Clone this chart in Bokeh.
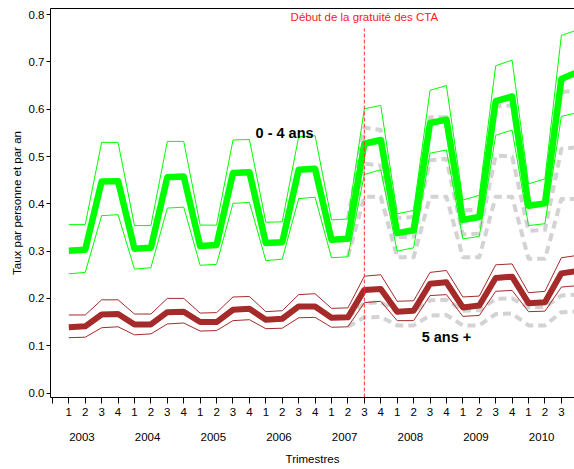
from bokeh.plotting import figure
from bokeh.models import Range1d, LinearAxis, FixedTicker, Label
from bokeh.embed import file_html
from bokeh.resources import INLINE

# ---- data ----
years = ["2003", "2004", "2005", "2006", "2007", "2008", "2009", "2010"]
quarters = ["1", "2", "3", "4"]
policy_start_index = 18  # 2007 Q3
policy_label = "Début de la gratuité des CTA"

green_mid = [0.301, 0.303, 0.447, 0.448, 0.305, 0.307, 0.456, 0.458,
             0.311, 0.313, 0.465, 0.467, 0.317, 0.319, 0.472, 0.474,
             0.324, 0.326, 0.527, 0.535, 0.338, 0.344, 0.571, 0.578,
             0.366, 0.372, 0.617, 0.627, 0.396, 0.401, 0.664, 0.679]
green_hi = [0.356, 0.356, 0.530, 0.530, 0.354, 0.354, 0.532, 0.532,
            0.355, 0.355, 0.535, 0.536, 0.361, 0.362, 0.542, 0.544,
            0.366, 0.368, 0.601, 0.608, 0.379, 0.386, 0.640, 0.650,
            0.408, 0.418, 0.692, 0.704, 0.442, 0.453, 0.756, 0.768]
green_lo = [0.252, 0.255, 0.375, 0.377, 0.262, 0.265, 0.391, 0.393,
            0.270, 0.272, 0.401, 0.403, 0.280, 0.283, 0.411, 0.414,
            0.286, 0.288, 0.462, 0.472, 0.300, 0.307, 0.507, 0.514,
            0.326, 0.331, 0.545, 0.556, 0.354, 0.358, 0.585, 0.593]

red_mid = [0.139, 0.141, 0.166, 0.167, 0.145, 0.145, 0.171, 0.172,
           0.150, 0.150, 0.176, 0.178, 0.155, 0.157, 0.183, 0.183,
           0.159, 0.160, 0.218, 0.220, 0.172, 0.174, 0.231, 0.234,
           0.181, 0.185, 0.243, 0.246, 0.190, 0.192, 0.253, 0.258]
red_hi = [0.165, 0.165, 0.197, 0.197, 0.167, 0.167, 0.200, 0.200,
          0.169, 0.170, 0.203, 0.204, 0.172, 0.174, 0.208, 0.210,
          0.179, 0.180, 0.247, 0.250, 0.194, 0.195, 0.255, 0.259,
          0.203, 0.205, 0.271, 0.273, 0.212, 0.215, 0.286, 0.291]
red_lo = [0.117, 0.118, 0.138, 0.140, 0.123, 0.125, 0.146, 0.148,
          0.131, 0.132, 0.153, 0.155, 0.136, 0.137, 0.159, 0.160,
          0.139, 0.140, 0.191, 0.194, 0.153, 0.153, 0.206, 0.208,
          0.162, 0.164, 0.215, 0.217, 0.172, 0.173, 0.224, 0.227]

# projections (grey dashed) from 2007 Q2 onwards
proj_start_index = 17
proj_green_hi = [0.368, 0.561, 0.556, 0.370, 0.372, 0.583, 0.583, 0.386,
                 0.388, 0.606, 0.608, 0.400, 0.402, 0.636, 0.640]
proj_green_mid = [0.326, 0.485, 0.481, 0.329, 0.331, 0.492, 0.495, 0.335,
                  0.337, 0.502, 0.500, 0.343, 0.345, 0.516, 0.520]
proj_green_lo = [0.288, 0.415, 0.415, 0.287, 0.287, 0.415, 0.415, 0.287,
                 0.287, 0.415, 0.415, 0.284, 0.284, 0.410, 0.410]
proj_red_mid = [0.160, 0.190, 0.192, 0.171, 0.172, 0.196, 0.197, 0.174,
                0.175, 0.199, 0.200, 0.181, 0.182, 0.206, 0.208]
proj_red_lo = [0.140, 0.160, 0.161, 0.143, 0.143, 0.164, 0.165, 0.143,
               0.143, 0.167, 0.168, 0.143, 0.143, 0.171, 0.172]

y_ticks = [0.0, 0.1, 0.2, 0.3, 0.4, 0.5, 0.6, 0.7, 0.8]

# ---- derived ----
n = len(green_mid)
idx = list(range(n))
pidx = list(range(proj_start_index, proj_start_index + len(proj_green_mid)))

FONT = "Liberation Sans"
FS = "11.5px"
GREEN = "#00ff00"
BROWN = "#a52a2a"
GREY = "#d3d3d3"

p = figure(width=574, height=469, output_backend="svg", toolbar_location=None,
           x_range=Range1d(-1.115, 30.8), y_range=Range1d(-0.0095, 0.813),
           min_border_left=50, min_border_right=0, min_border_top=8,
           min_border_bottom=72)
p.outline_line_color = None
p.grid.visible = False
p.background_fill_color = "white"
p.border_fill_color = "white"

# x axis (quarters)
qticks = list(range(-1, n))
xa = p.xaxis[0]
xa.ticker = FixedTicker(ticks=qticks)
xa.major_label_overrides = {i: ("" if i < 0 else quarters[i % 4]) for i in qticks}
xa.major_tick_out = 6
xa.major_tick_in = 0
xa.minor_tick_line_color = None
xa.major_label_standoff = 4
xa.major_label_text_font = FONT
xa.major_label_text_font_size = FS
xa.major_label_text_color = "black"
xa.axis_line_color = "black"
xa.major_tick_line_color = "black"

# year axis
year_pos = [4 * k + 0.8 for k in range(len(years))]
ya2 = LinearAxis(ticker=FixedTicker(ticks=year_pos),
                 major_label_overrides={year_pos[k]: years[k] for k in range(len(years))},
                 major_tick_line_color=None, minor_tick_line_color=None,
                 axis_line_color=None, major_tick_out=0, major_tick_in=0,
                 major_label_standoff=14,
                 major_label_text_font=FONT, major_label_text_font_size=FS,
                 major_label_text_color="black",
                 axis_label="Trimestres", axis_label_text_font=FONT,
                 axis_label_text_font_size=FS, axis_label_text_font_style="normal",
                 axis_label_text_color="black", axis_label_standoff=9)
p.add_layout(ya2, "below")

# top border
top = LinearAxis(ticker=FixedTicker(ticks=[]), major_tick_line_color=None,
                 minor_tick_line_color=None, major_label_text_font_size="0px",
                 axis_line_color="black", major_tick_out=0, major_tick_in=0,
                 major_label_standoff=0)
p.add_layout(top, "above")

# y axis
yax = p.yaxis[0]
yax.ticker = FixedTicker(ticks=y_ticks)
yax.major_label_overrides = {v: f"{v:.1f}" for v in y_ticks}
yax.major_tick_out = 4
yax.major_tick_in = 0
yax.minor_tick_line_color = None
yax.major_label_standoff = 2
yax.major_label_text_font = FONT
yax.major_label_text_font_size = FS
yax.major_label_text_color = "black"
yax.axis_label = "Taux par personne et par an"
yax.axis_label_text_font = FONT
yax.axis_label_text_font_size = FS
yax.axis_label_text_font_style = "normal"
yax.axis_label_text_color = "black"
yax.axis_label_standoff = 3

# grey projections
for s in (proj_green_hi, proj_green_mid, proj_green_lo, proj_red_mid, proj_red_lo):
    p.line(pidx, s, line_color=GREY, line_width=4, line_dash="8 5",
           line_join="round")

# thin bands
for s in (green_hi, green_lo):
    p.line(idx, s, line_color=GREEN, line_width=1)
for s in (red_hi, red_lo):
    p.line(idx, s, line_color=BROWN, line_width=1)

# thick lines
p.line(idx, green_mid, line_color=GREEN, line_width=6.5, line_join="round")
p.line(idx, red_mid, line_color=BROWN, line_width=6, line_join="round")

# policy line
p.segment(x0=[policy_start_index], y0=[-0.0095], x1=[policy_start_index], y1=[0.771],
          line_color="#ff3030", line_width=1, line_dash="4 2")
p.add_layout(Label(x=policy_start_index, y=0.794, text=policy_label,
                   text_align="center", text_baseline="middle",
                   text_font=FONT, text_font_size=FS, text_color="#ff2020"))

p.add_layout(Label(x=13.14, y=0.549, text="0 - 4 ans", text_align="center",
                   text_baseline="middle", text_font=FONT, text_font_size="14.5px",
                   text_font_style="bold", text_color="black"))
p.add_layout(Label(x=23.0, y=0.119, text="5 ans +", text_align="center",
                   text_baseline="middle", text_font=FONT, text_font_size="14.5px",
                   text_font_style="bold", text_color="black"))

open("out.html", "w").write(file_html(p, INLINE))
